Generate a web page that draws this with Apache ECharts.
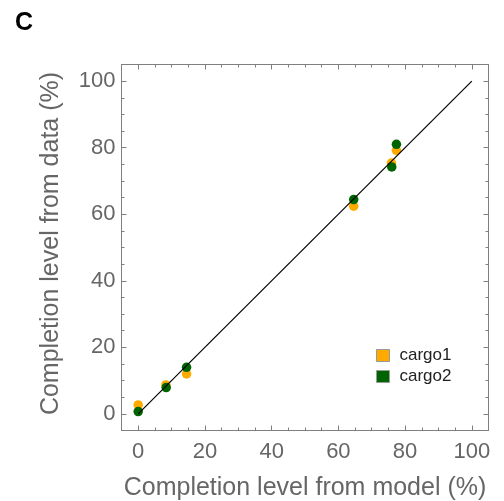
<!DOCTYPE html>
<html>
<head>
<meta charset="utf-8">
<script src="https://cdn.jsdelivr.net/npm/echarts@6/dist/echarts.min.js"></script>
<style>html,body{margin:0;padding:0;background:#fff}#chart{width:504px;height:501px}</style>
</head>
<body>
<div id="chart"></div>
<script>
// Data (x = completion level from model %, y = completion level from data %)
const cargo1X = [0, 8.3, 14.5, 64.6, 75.9, 77.4];
const cargo1Y = [2.7, 8.7, 12.0, 62.4, 75.4, 79.2];
const cargo2X = [0, 8.4, 14.5, 64.6, 76.0, 77.4];
const cargo2Y = [0.7, 7.9, 14.0, 64.4, 74.2, 81.0];
const refLine = [0, 100];
const seriesNames = ['cargo1', 'cargo2'];
const tickValues = [0, 20, 40, 60, 80, 100];

const pairs = (xs, ys) => xs.map((x, i) => [x, ys[i]]);
const gray = '#7f7f7f';
const labelColor = '#666666';
const gridRect = { left: 121.5, top: 64.5, width: 367, height: 366, containLabel: false, outerBoundsMode: 'none' };

// major axes (grid 0): frame line, labels, long ticks at tick values
function majorAxis(pos, showLabels) {
  return {
    type: 'value', gridIndex: 0, position: pos, min: -5, max: 105, interval: 5,
    axisLine: { show: true, onZero: false, lineStyle: { color: gray, width: 1 } },
    axisTick: { show: true, inside: true, length: 5, customValues: tickValues, lineStyle: { color: gray } },
    splitLine: { show: false },
    axisLabel: {
      show: showLabels, customValues: tickValues,
      color: labelColor, fontSize: 22, fontFamily: 'Liberation Sans'
    }
  };
}
// minor axes (grid 1, same rectangle): short ticks every 5
function minorAxis(pos) {
  return {
    type: 'value', gridIndex: 1, position: pos, min: -5, max: 105, interval: 5,
    axisLine: { show: false, onZero: false },
    axisTick: { show: true, inside: true, length: 3, lineStyle: { color: gray } },
    splitLine: { show: false },
    axisLabel: { show: false }
  };
}

const xBottom = Object.assign(majorAxis('bottom', true), {
  name: 'Completion level from model (%)', nameLocation: 'middle', nameGap: 45,
  nameTextStyle: { color: labelColor, fontSize: 25, fontFamily: 'Liberation Sans' }
});
xBottom.axisLabel.margin = 10;
const yLeft = Object.assign(majorAxis('left', true), {
  name: 'Completion level from data (%)', nameLocation: 'middle', nameGap: 58,
  nameTextStyle: { color: labelColor, fontSize: 25, fontFamily: 'Liberation Sans', padding: [0, 0, 0, 8] }
});
yLeft.axisLabel.margin = 6;

const chart = echarts.init(document.getElementById('chart'), null, { renderer: 'canvas' });
chart.setOption({
  animation: false,
  backgroundColor: '#ffffff',
  grid: [Object.assign({}, gridRect), Object.assign({}, gridRect)],
  xAxis: [xBottom, majorAxis('top', false), minorAxis('bottom'), minorAxis('top')],
  yAxis: [yLeft, majorAxis('right', false), minorAxis('left'), minorAxis('right')],
  legend: {
    orient: 'vertical', left: 376, top: 347, padding: 0, itemWidth: 13, itemHeight: 12, itemGap: 4,
    icon: 'rect',
    textStyle: { color: '#222', fontSize: 17, fontFamily: 'Liberation Sans', padding: [0, 0, 0, 5] },
    data: [
      { name: seriesNames[0], itemStyle: { color: '#ffaa00', borderColor: '#999', borderWidth: 1 } },
      { name: seriesNames[1], itemStyle: { color: '#006400', borderColor: '#999', borderWidth: 1 } }
    ]
  },
  graphic: [{
    type: 'text', left: 15, top: 11,
    style: { text: 'C', fill: '#000', fontSize: 25, fontWeight: 'bold', fontFamily: 'Liberation Sans' }
  }],
  series: [
    { name: seriesNames[0], type: 'scatter', xAxisIndex: 0, yAxisIndex: 0, symbolSize: 9.5, z: 2,
      itemStyle: { color: '#ffaa00', opacity: 1 }, data: pairs(cargo1X, cargo1Y) },
    { name: seriesNames[1], type: 'scatter', xAxisIndex: 0, yAxisIndex: 0, symbolSize: 9.5, z: 3,
      itemStyle: { color: '#006400', opacity: 1 }, data: pairs(cargo2X, cargo2Y) },
    { type: 'line', xAxisIndex: 0, yAxisIndex: 0, z: 4, symbol: 'none', silent: true,
      lineStyle: { color: '#000', width: 1.2 }, data: pairs(refLine, refLine) }
  ]
});
</script>
</body>
</html>
